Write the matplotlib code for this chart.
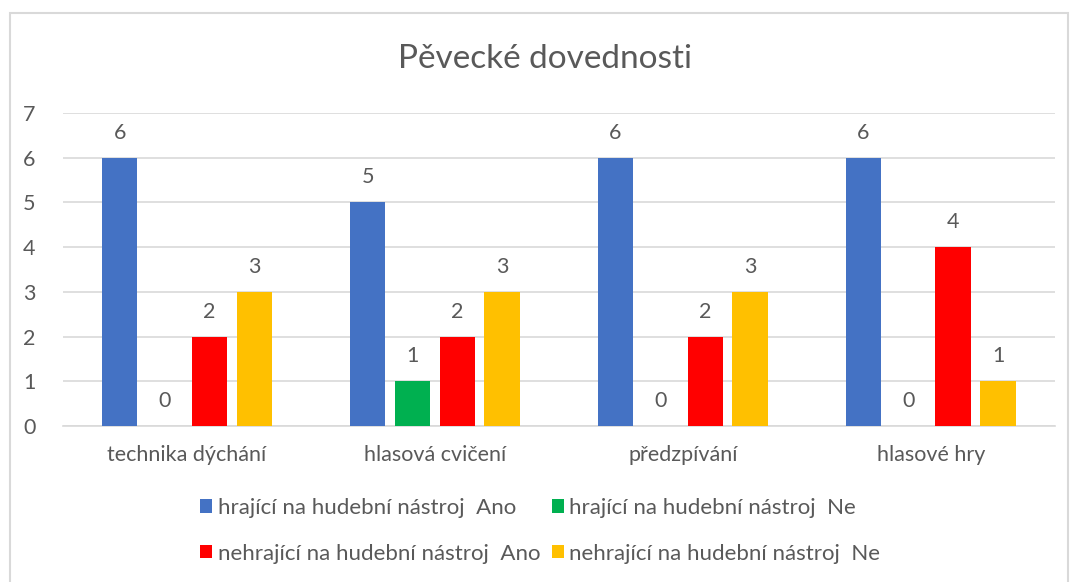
import numpy as np
import matplotlib.pyplot as plt
from matplotlib.patches import Rectangle

plt.rcParams['font.family'] = ['Lato', 'DejaVu Sans']

# data
categories = ['technika dýchání', 'hlasová cvičení', 'předzpívání', 'hlasové hry']
series_names = ['hrající na hudební nástroj  Ano', 'hrající na hudební nástroj  Ne',
                'nehrající na hudební nástroj  Ano', 'nehrající na hudební nástroj  Ne']
hraj_ano = [6, 5, 6, 6]
hraj_ne = [0, 1, 0, 0]
nehraj_ano = [2, 2, 2, 4]
nehraj_ne = [3, 3, 3, 1]
colors = ['#4472C4', '#00B050', '#FF0000', '#FFC000']

text_col = '#595959'
fig = plt.figure(figsize=(10.74, 5.82), dpi=100)
ax = fig.add_axes([0.0587, 0.268, 0.9233, 0.538])

x = np.arange(len(categories))
step = 0.181
width = 0.143
series = [hraj_ano, hraj_ne, nehraj_ano, nehraj_ne]
handles = []
for i, (vals, c, name) in enumerate(zip(series, colors, series_names)):
    pos = x + (i - 1.5) * step
    b = ax.bar(pos, vals, width, color=c, label=name, zorder=3)
    handles.append(b)
    for p, v in zip(pos, vals):
        ax.annotate(str(v), (p, v), xytext=(0, 18), textcoords='offset points',
                    ha='center', va='center', fontsize=15.5, color=text_col)

ax.set_xlim(-0.5, 3.5)
ax.set_ylim(0, 7)
ax.set_yticks(range(0, 8))
ax.set_xticks(x)
ax.set_xticklabels(categories)
ax.tick_params(axis='both', length=0, labelsize=15.5, labelcolor=text_col)
ax.tick_params(axis='y', pad=20)
ax.tick_params(axis='x', pad=14)
ax.grid(axis='y', color='#D9D9D9', linewidth=1.2, zorder=0)
for s in ['top', 'right', 'left']:
    ax.spines[s].set_visible(False)
ax.spines['bottom'].set_color('#D9D9D9')
ax.spines['bottom'].set_linewidth(1.2)

fig.text(0.507, 0.898, 'Pěvecké dovednosti', ha='center', va='center',
         fontsize=24, color=text_col)

# legend, row-major order
order = [0, 2, 1, 3]
leg = fig.legend([handles[k] for k in order], [series_names[k] for k in order],
                 ncol=2, loc='center', bbox_to_anchor=(0.503, 0.088),
                 frameon=False, fontsize=16, handlelength=0.55, handleheight=0.55,
                 handletextpad=0.25, columnspacing=0.5, labelspacing=1.15,
                 labelcolor=text_col)

fig.patches.append(Rectangle((0.0093, -0.01), 0.985, 0.988, transform=fig.transFigure,
                             fill=False, edgecolor='#D9D9D9', linewidth=1.5))

fig.savefig('out.png', dpi=100)
